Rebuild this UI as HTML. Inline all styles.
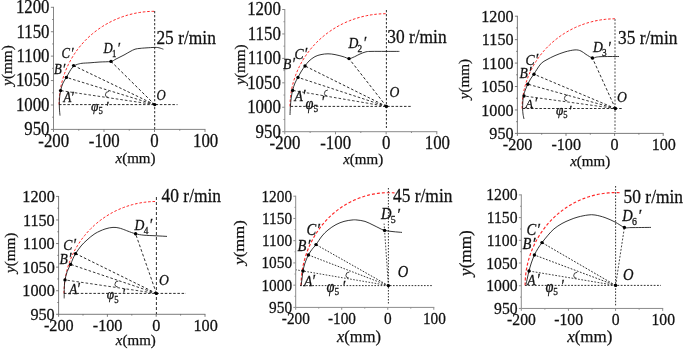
<!DOCTYPE html>
<html><head><meta charset="utf-8"><title>figure</title>
<style>
html,body{margin:0;padding:0;background:#fff;}
body{width:685px;height:350px;overflow:hidden;}
svg{display:block;font-family:"Liberation Serif", serif;}
text{fill:#111;stroke:#111;stroke-width:0.25px;}
</style></head><body>
<svg width="685" height="350" viewBox="0 0 685 350">
<path d="M53.5,6.88 V129.4 H205.43" fill="none" stroke="#707070" stroke-width="0.85"/>
<path d="M50.90,129.40 H53.5 M52.20,117.19 H53.5 M50.90,104.98 H53.5 M52.20,92.77 H53.5 M50.90,80.56 H53.5 M52.20,68.35 H53.5 M50.90,56.14 H53.5 M52.20,43.93 H53.5 M50.90,31.72 H53.5 M52.20,19.51 H53.5 M50.90,7.30 H53.5 M53.50,129.4 V132.00 M78.75,129.4 V130.70 M104.00,129.4 V132.00 M129.25,129.4 V130.70 M154.50,129.4 V132.00 M179.75,129.4 V130.70 M205.00,129.4 V132.00 " fill="none" stroke="#707070" stroke-width="0.85"/>
<text transform="translate(49.50,135.30) scale(1,1.07)" font-size="16.82" text-anchor="end">950</text>
<text transform="translate(49.50,110.88) scale(1,1.07)" font-size="16.82" text-anchor="end">1000</text>
<text transform="translate(49.50,86.46) scale(1,1.07)" font-size="16.82" text-anchor="end">1050</text>
<text transform="translate(49.50,62.04) scale(1,1.07)" font-size="16.82" text-anchor="end">1100</text>
<text transform="translate(49.50,37.62) scale(1,1.07)" font-size="16.82" text-anchor="end">1150</text>
<text transform="translate(49.50,13.20) scale(1,1.07)" font-size="16.82" text-anchor="end">1200</text>
<text transform="translate(53.70,146.80) scale(1,1.07)" font-size="16.82" text-anchor="middle">-200</text>
<text transform="translate(104.20,146.80) scale(1,1.07)" font-size="16.82" text-anchor="middle">-100</text>
<text transform="translate(154.50,146.80) scale(1,1.07)" font-size="16.82" text-anchor="middle">0</text>
<text transform="translate(205.60,146.80) scale(1,1.07)" font-size="16.82" text-anchor="middle">100</text>
<text x="135.50" y="162.80" font-size="15.00" text-anchor="middle"><tspan font-style="italic">x</tspan>(mm)</text>
<text transform="translate(12.40,65.50) rotate(-90) scale(1.01,0.93)" font-size="15.00" text-anchor="middle"><tspan font-style="italic">y</tspan>(mm)</text>
<path d="M59.10,104.60 L59.13,102.16 L59.23,99.72 L59.39,97.28 L59.62,94.85 L59.92,92.42 L60.28,90.00 L60.70,87.60 L61.19,85.20 L61.74,82.82 L62.36,80.45 L63.04,78.10 L63.78,75.77 L64.58,73.46 L65.45,71.16 L66.38,68.90 L67.37,66.65 L68.41,64.43 L69.52,62.24 L70.69,60.08 L71.91,57.95 L73.19,55.85 L74.52,53.79 L75.91,51.75 L77.36,49.76 L78.86,47.80 L80.40,45.88 L82.01,44.01 L83.66,42.17 L85.35,40.38 L87.10,38.63 L88.89,36.92 L90.73,35.26 L92.61,33.65 L94.54,32.09 L96.50,30.58 L98.51,29.12 L100.55,27.71 L102.63,26.35 L104.75,25.05 L106.90,23.80 L109.08,22.61 L111.30,21.47 L113.54,20.39 L115.82,19.37 L118.12,18.40 L120.44,17.50 L122.79,16.65 L125.16,15.87 L127.55,15.14 L129.96,14.48 L132.38,13.88 L134.82,13.34 L137.28,12.86 L139.74,12.45 L142.22,12.10 L144.71,11.81 L147.20,11.59 L149.70,11.43 L152.20,11.33 L154.70,11.30" fill="none" stroke="#ff2626" stroke-width="1.0" stroke-dasharray="2.6 1.8"/>
<path d="M154.7,104.6 L60.6,90.6" fill="none" stroke="#1a1a1a" stroke-width="0.84" stroke-dasharray="2.6 2.0"/>
<path d="M154.7,104.6 L66.4,77.4" fill="none" stroke="#1a1a1a" stroke-width="0.89" stroke-dasharray="2.6 2.0"/>
<path d="M154.7,104.6 L73.6,65.6" fill="none" stroke="#1a1a1a" stroke-width="0.93" stroke-dasharray="2.6 2.0"/>
<path d="M154.7,104.6 L111,61.4" fill="none" stroke="#1a1a1a" stroke-width="0.97" stroke-dasharray="2.8 2.1"/>
<path d="M59,104.6 H177.5" fill="none" stroke="#1a1a1a" stroke-width="0.92" stroke-dasharray="2.5 1.7"/>
<path d="M154.7,11 V129" fill="none" stroke="#1a1a1a" stroke-width="0.92" stroke-dasharray="2.3 1.7"/>
<path d="M60.00,115.60 C59.90,114.33 59.50,110.60 59.40,108.00 C59.30,105.40 59.20,102.90 59.40,100.00 C59.60,97.10 60.00,93.43 60.60,90.60 C61.20,87.77 62.03,85.20 63.00,83.00 C63.97,80.80 65.30,79.30 66.40,77.40 C67.50,75.50 68.67,73.17 69.60,71.60 C70.53,70.03 71.20,68.98 72.00,68.00 C72.80,67.02 73.48,66.32 74.40,65.70 C75.32,65.08 76.23,64.70 77.50,64.30 C78.77,63.90 79.92,63.55 82.00,63.30 C84.08,63.05 87.00,63.02 90.00,62.80 C93.00,62.58 96.50,62.23 100.00,62.00 C103.50,61.77 108.33,61.90 111.00,61.40 C113.67,60.90 113.83,60.07 116.00,59.00 C118.17,57.93 121.67,56.23 124.00,55.00 C126.33,53.77 128.17,52.57 130.00,51.60 C131.83,50.63 133.33,49.73 135.00,49.20 C136.67,48.67 138.17,48.62 140.00,48.40 C141.83,48.18 143.50,48.07 146.00,47.90 C148.50,47.73 152.83,47.42 155.00,47.40 C157.17,47.38 157.60,47.50 159.00,47.80 C160.40,48.10 162.67,48.97 163.40,49.20" fill="none" stroke="#111" stroke-width="0.85"/>
<circle cx="60.6" cy="90.6" r="1.7" fill="#000"/>
<circle cx="66.4" cy="77.4" r="1.7" fill="#000"/>
<circle cx="73.6" cy="65.6" r="1.7" fill="#000"/>
<circle cx="111" cy="61.4" r="1.7" fill="#000"/>
<circle cx="154.7" cy="104.6" r="1.7" fill="#000"/>
<text transform="translate(63.6,102.4) scale(1,1.1)" font-size="12.73" font-style="italic">A<tspan dx="-0.6" font-size="14.00">′</tspan></text>
<text transform="translate(54,74) scale(1,1.1)" font-size="12.73" font-style="italic">B<tspan dx="0.5" font-size="14.00">′</tspan></text>
<text transform="translate(61.6,58) scale(1,1.1)" font-size="12.73" font-style="italic">C<tspan dx="0.5" font-size="14.00">′</tspan></text>
<text transform="translate(103.5,52.9) scale(1,1.1)" font-size="12.73" font-style="italic">D<tspan font-size="8.7" dy="3.4" dx="-0.8" font-style="normal">1</tspan><tspan dy="-3.2" dx="0.8" font-size="14.00">′</tspan></text>
<text transform="translate(156.5,99.6) scale(1,1.1)" font-size="12.73" font-style="italic">O</text>
<text transform="translate(91,111) scale(1,1.1)" font-size="13.36" font-style="italic">φ<tspan font-size="8.7" dy="3.1" font-style="normal">5</tspan></text>
<text transform="translate(105.5,111.6) scale(1,1.1)" font-size="14.00" font-style="italic">′</text>
<path d="M108.9,91.4 Q105.2,91.60000000000001 105.4,94.9 Q105.6,97.4 108.2,97.30000000000001" fill="none" stroke="#222" stroke-width="0.85"/>
<text transform="translate(156.4,43.6) scale(1,1.12)" font-size="17.40">25 r/min</text>
<path d="M284.8,9.00 V131.7 H437.30" fill="none" stroke="#8a8a8a" stroke-width="1.0"/>
<path d="M282.20,131.70 H284.8 M283.50,119.48 H284.8 M282.20,107.26 H284.8 M283.50,95.04 H284.8 M282.20,82.82 H284.8 M283.50,70.60 H284.8 M282.20,58.38 H284.8 M283.50,46.16 H284.8 M282.20,33.94 H284.8 M283.50,21.72 H284.8 M282.20,9.50 H284.8 M284.80,131.7 V134.30 M310.13,131.7 V133.00 M335.47,131.7 V134.30 M360.80,131.7 V133.00 M386.13,131.7 V134.30 M411.47,131.7 V133.00 M436.80,131.7 V134.30 " fill="none" stroke="#8a8a8a" stroke-width="1.0"/>
<text transform="translate(280.80,137.60) scale(1,1.07)" font-size="16.82" text-anchor="end">950</text>
<text transform="translate(280.80,113.16) scale(1,1.07)" font-size="16.82" text-anchor="end">1000</text>
<text transform="translate(280.80,88.72) scale(1,1.07)" font-size="16.82" text-anchor="end">1050</text>
<text transform="translate(280.80,64.28) scale(1,1.07)" font-size="16.82" text-anchor="end">1100</text>
<text transform="translate(280.80,39.84) scale(1,1.07)" font-size="16.82" text-anchor="end">1150</text>
<text transform="translate(280.80,15.40) scale(1,1.07)" font-size="16.82" text-anchor="end">1200</text>
<text transform="translate(285.00,149.10) scale(1,1.07)" font-size="16.82" text-anchor="middle">-200</text>
<text transform="translate(335.67,149.10) scale(1,1.07)" font-size="16.82" text-anchor="middle">-100</text>
<text transform="translate(386.13,149.10) scale(1,1.07)" font-size="16.82" text-anchor="middle">0</text>
<text transform="translate(437.40,149.10) scale(1,1.07)" font-size="16.82" text-anchor="middle">100</text>
<text x="363.20" y="164.10" font-size="15.00" text-anchor="middle"><tspan font-style="italic">x</tspan>(mm)</text>
<text transform="translate(244.70,64.60) rotate(-90) scale(1.01,0.93)" font-size="15.00" text-anchor="middle"><tspan font-style="italic">y</tspan>(mm)</text>
<path d="M290.00,106.40 L290.03,103.97 L290.13,101.55 L290.30,99.13 L290.53,96.71 L290.82,94.30 L291.19,91.90 L291.61,89.51 L292.11,87.13 L292.66,84.76 L293.28,82.41 L293.97,80.07 L294.72,77.75 L295.53,75.46 L296.40,73.18 L297.34,70.93 L298.33,68.70 L299.39,66.49 L300.51,64.32 L301.68,62.17 L302.92,60.05 L304.21,57.96 L305.55,55.91 L306.95,53.89 L308.41,51.91 L309.92,49.97 L311.48,48.06 L313.10,46.20 L314.76,44.37 L316.47,42.59 L318.23,40.85 L320.04,39.16 L321.90,37.51 L323.79,35.91 L325.73,34.36 L327.72,32.86 L329.74,31.40 L331.80,30.00 L333.90,28.66 L336.03,27.36 L338.20,26.12 L340.40,24.93 L342.64,23.80 L344.90,22.73 L347.19,21.71 L349.51,20.76 L351.85,19.86 L354.22,19.02 L356.61,18.24 L359.02,17.52 L361.45,16.86 L363.90,16.26 L366.36,15.73 L368.83,15.25 L371.32,14.84 L373.82,14.49 L376.32,14.21 L378.84,13.99 L381.35,13.83 L383.88,13.73 L386.40,13.70" fill="none" stroke="#ff2626" stroke-width="1.0" stroke-dasharray="2.6 1.8"/>
<path d="M386.4,106.4 L292.6,90.4" fill="none" stroke="#1a1a1a" stroke-width="0.84" stroke-dasharray="2.6 2.0"/>
<path d="M386.4,106.4 L298,77.4" fill="none" stroke="#1a1a1a" stroke-width="0.89" stroke-dasharray="2.6 2.0"/>
<path d="M386.4,106.4 L305,66" fill="none" stroke="#1a1a1a" stroke-width="0.93" stroke-dasharray="2.6 2.0"/>
<path d="M386.4,106.4 L349,58.6" fill="none" stroke="#1a1a1a" stroke-width="0.96" stroke-dasharray="2.8 2.1"/>
<path d="M290.6,106.4 H412" fill="none" stroke="#1a1a1a" stroke-width="0.92" stroke-dasharray="2.5 1.7"/>
<path d="M386.4,10 V128" fill="none" stroke="#1a1a1a" stroke-width="0.92" stroke-dasharray="2.3 1.7"/>
<path d="M290.00,115.00 C290.07,113.57 290.20,109.23 290.40,106.40 C290.60,103.57 290.83,100.67 291.20,98.00 C291.57,95.33 291.97,92.90 292.60,90.40 C293.23,87.90 294.10,85.17 295.00,83.00 C295.90,80.83 296.92,79.40 298.00,77.40 C299.08,75.40 300.33,72.90 301.50,71.00 C302.67,69.10 303.75,67.67 305.00,66.00 C306.25,64.33 307.33,62.57 309.00,61.00 C310.67,59.43 313.00,57.67 315.00,56.60 C317.00,55.53 318.83,55.07 321.00,54.60 C323.17,54.13 325.67,53.80 328.00,53.80 C330.33,53.80 332.50,54.13 335.00,54.60 C337.50,55.07 340.67,55.93 343.00,56.60 C345.33,57.27 347.33,58.47 349.00,58.60 C350.67,58.73 351.83,57.83 353.00,57.40 C354.17,56.97 354.83,56.57 356.00,56.00 C357.17,55.43 358.33,54.70 360.00,54.00 C361.67,53.30 364.00,52.23 366.00,51.80 C368.00,51.37 368.83,51.47 372.00,51.40 C375.17,51.33 380.43,51.40 385.00,51.40 C389.57,51.40 397.00,51.40 399.40,51.40" fill="none" stroke="#111" stroke-width="0.85"/>
<circle cx="292.6" cy="90.4" r="1.7" fill="#000"/>
<circle cx="298" cy="77.4" r="1.7" fill="#000"/>
<circle cx="305" cy="66" r="1.7" fill="#000"/>
<circle cx="349" cy="58.6" r="1.7" fill="#000"/>
<circle cx="386.4" cy="106.4" r="1.7" fill="#000"/>
<text transform="translate(294.5,101.4) scale(1,1.1)" font-size="13.64" font-style="italic">A<tspan dx="-0.6" font-size="15.00">′</tspan></text>
<text transform="translate(283,68.6) scale(1,1.1)" font-size="13.64" font-style="italic">B<tspan dx="0.5" font-size="15.00">′</tspan></text>
<text transform="translate(294.5,58.6) scale(1,1.1)" font-size="13.64" font-style="italic">C<tspan dx="0.5" font-size="15.00">′</tspan></text>
<text transform="translate(348.5,48) scale(1,1.1)" font-size="13.64" font-style="italic">D<tspan font-size="9.3" dy="3.4" dx="-0.8" font-style="normal">2</tspan><tspan dy="-3.2" dx="0.8" font-size="15.00">′</tspan></text>
<text transform="translate(389.5,97.4) scale(1,1.1)" font-size="13.64" font-style="italic">O</text>
<text transform="translate(305.6,109) scale(1,1.1)" font-size="14.32" font-style="italic">φ<tspan font-size="9.3" dy="3.1" font-style="normal">5</tspan></text>
<text transform="translate(321,106.6) scale(1,1.1)" font-size="15.00" font-style="italic">′</text>
<path d="M327.9,90.0 Q324.2,90.2 324.4,93.5 Q324.6,96.0 327.2,95.9" fill="none" stroke="#222" stroke-width="0.85"/>
<text transform="translate(387.2,43) scale(1,1.12)" font-size="17.40">30 r/min</text>
<path d="M517.4,15.80 V133.4 H663.60" fill="none" stroke="#5a5a5a" stroke-width="0.8"/>
<path d="M514.90,133.40 H517.4 M516.15,121.68 H517.4 M514.90,109.96 H517.4 M516.15,98.24 H517.4 M514.90,86.52 H517.4 M516.15,74.80 H517.4 M514.90,63.08 H517.4 M516.15,51.36 H517.4 M514.90,39.64 H517.4 M516.15,27.92 H517.4 M514.90,16.20 H517.4 M517.40,133.4 V135.90 M541.70,133.4 V134.65 M566.00,133.4 V135.90 M590.30,133.4 V134.65 M614.60,133.4 V135.90 M638.90,133.4 V134.65 M663.20,133.4 V135.90 " fill="none" stroke="#5a5a5a" stroke-width="0.8"/>
<text transform="translate(513.56,139.06) scale(1,1.07)" font-size="16.15" text-anchor="end">950</text>
<text transform="translate(513.56,115.62) scale(1,1.07)" font-size="16.15" text-anchor="end">1000</text>
<text transform="translate(513.56,92.18) scale(1,1.07)" font-size="16.15" text-anchor="end">1050</text>
<text transform="translate(513.56,68.74) scale(1,1.07)" font-size="16.15" text-anchor="end">1100</text>
<text transform="translate(513.56,45.30) scale(1,1.07)" font-size="16.15" text-anchor="end">1150</text>
<text transform="translate(513.56,21.86) scale(1,1.07)" font-size="16.15" text-anchor="end">1200</text>
<text transform="translate(517.59,150.10) scale(1,1.07)" font-size="16.15" text-anchor="middle">-200</text>
<text transform="translate(566.19,150.10) scale(1,1.07)" font-size="16.15" text-anchor="middle">-100</text>
<text transform="translate(614.60,150.10) scale(1,1.07)" font-size="16.15" text-anchor="middle">0</text>
<text transform="translate(663.78,150.10) scale(1,1.07)" font-size="16.15" text-anchor="middle">100</text>
<text x="590.20" y="165.80" font-size="15.00" text-anchor="middle"><tspan font-style="italic">x</tspan>(mm)</text>
<text transform="translate(468.90,79.10) rotate(-90) scale(1.01,0.93)" font-size="15.00" text-anchor="middle"><tspan font-style="italic">y</tspan>(mm)</text>
<path d="M522.10,108.50 L522.13,106.15 L522.23,103.81 L522.39,101.46 L522.61,99.12 L522.90,96.79 L523.25,94.47 L523.66,92.15 L524.14,89.85 L524.68,87.56 L525.28,85.28 L525.94,83.02 L526.67,80.78 L527.45,78.56 L528.30,76.35 L529.20,74.17 L530.17,72.02 L531.19,69.88 L532.27,67.78 L533.41,65.70 L534.60,63.65 L535.85,61.63 L537.15,59.65 L538.51,57.69 L539.92,55.78 L541.38,53.89 L542.89,52.05 L544.45,50.24 L546.06,48.48 L547.72,46.75 L549.43,45.07 L551.18,43.43 L552.97,41.84 L554.81,40.29 L556.68,38.79 L558.60,37.34 L560.56,35.93 L562.55,34.58 L564.59,33.27 L566.65,32.02 L568.75,30.82 L570.88,29.67 L573.04,28.58 L575.23,27.54 L577.45,26.55 L579.70,25.63 L581.96,24.76 L584.26,23.95 L586.57,23.19 L588.90,22.49 L591.25,21.86 L593.62,21.28 L596.00,20.76 L598.40,20.30 L600.80,19.90 L603.22,19.57 L605.65,19.29 L608.08,19.08 L610.52,18.92 L612.96,18.83 L615.40,18.80" fill="none" stroke="#ff2626" stroke-width="1.0" stroke-dasharray="2.6 1.8"/>
<path d="M615.4,108.5 L524,96" fill="none" stroke="#1a1a1a" stroke-width="0.83" stroke-dasharray="2.6 2.0"/>
<path d="M615.4,108.5 L527.8,84.2" fill="none" stroke="#1a1a1a" stroke-width="0.88" stroke-dasharray="2.6 2.0"/>
<path d="M615.4,108.5 L534,74.2" fill="none" stroke="#1a1a1a" stroke-width="0.91" stroke-dasharray="2.6 2.0"/>
<path d="M615.4,108.5 L592.4,58" fill="none" stroke="#1a1a1a" stroke-width="0.92" stroke-dasharray="2.8 2.1"/>
<path d="M522.6,108.5 H623" fill="none" stroke="#1a1a1a" stroke-width="0.92" stroke-dasharray="2.5 1.7"/>
<path d="M615.0,19 V132" fill="none" stroke="#9a9a9a" stroke-width="1.7" stroke-dasharray="2.1 1.4"/>
<path d="M524.00,119.00 C523.83,118.17 523.23,115.77 523.00,114.00 C522.77,112.23 522.63,110.40 522.60,108.40 C522.57,106.40 522.63,104.13 522.80,102.00 C522.97,99.87 523.18,97.60 523.60,95.60 C524.02,93.60 524.63,91.87 525.30,90.00 C525.97,88.13 526.73,86.23 527.60,84.40 C528.47,82.57 529.43,80.73 530.50,79.00 C531.57,77.27 532.92,75.63 534.00,74.00 C535.08,72.37 535.77,71.00 537.00,69.20 C538.23,67.40 539.73,64.80 541.40,63.20 C543.07,61.60 544.73,60.87 547.00,59.60 C549.27,58.33 552.00,56.88 555.00,55.60 C558.00,54.32 561.67,52.85 565.00,51.90 C568.33,50.95 572.33,50.05 575.00,49.90 C577.67,49.75 579.17,50.25 581.00,51.00 C582.83,51.75 584.10,53.23 586.00,54.40 C587.90,55.57 590.73,57.53 592.40,58.00 C594.07,58.47 594.73,57.42 596.00,57.20 C597.27,56.98 597.67,56.82 600.00,56.70 C602.33,56.58 606.83,56.53 610.00,56.50 C613.17,56.47 617.50,56.50 619.00,56.50" fill="none" stroke="#111" stroke-width="0.85"/>
<circle cx="524" cy="96" r="1.7" fill="#000"/>
<circle cx="527.8" cy="84.2" r="1.7" fill="#000"/>
<circle cx="534" cy="74.2" r="1.7" fill="#000"/>
<circle cx="592.4" cy="58" r="1.7" fill="#000"/>
<circle cx="615.4" cy="108.5" r="1.7" fill="#000"/>
<text transform="translate(525.5,108) scale(1,1.1)" font-size="12.27" font-style="italic">A<tspan dx="1.2" font-size="13.50">′</tspan></text>
<text transform="translate(519.5,78.2) scale(1,1.1)" font-size="13.64" font-style="italic">B<tspan dx="0.5" font-size="15.00">′</tspan></text>
<text transform="translate(525.5,65.2) scale(1,1.1)" font-size="13.64" font-style="italic">C<tspan dx="0.5" font-size="15.00">′</tspan></text>
<text transform="translate(593,52.4) scale(1,1.1)" font-size="13.64" font-style="italic">D<tspan font-size="9.3" dy="3.4" dx="-0.8" font-style="normal">3</tspan><tspan dy="-3.2" dx="0.8" font-size="15.00">′</tspan></text>
<text transform="translate(617,102.4) scale(1,1.1)" font-size="13.64" font-style="italic">O</text>
<text transform="translate(556,114.5) scale(1,1.1)" font-size="13.17" font-style="italic">φ<tspan font-size="8.5" dy="3.1" font-style="normal">5</tspan></text>
<text transform="translate(568.6,115.6) scale(1,1.1)" font-size="13.80" font-style="italic">′</text>
<path d="M567.9,95.0 Q564.2,95.2 564.4,98.5 Q564.6,101.0 567.2,100.9" fill="none" stroke="#222" stroke-width="0.85"/>
<text transform="translate(618,43.6) scale(1,1.12)" font-size="17.40">35 r/min</text>
<path d="M58.6,196.00 V314.3 H205.40" fill="none" stroke="#5a5a5a" stroke-width="0.8"/>
<path d="M56.09,314.30 H58.6 M57.35,302.51 H58.6 M56.09,290.72 H58.6 M57.35,278.93 H58.6 M56.09,267.14 H58.6 M57.35,255.35 H58.6 M56.09,243.56 H58.6 M57.35,231.77 H58.6 M56.09,219.98 H58.6 M57.35,208.19 H58.6 M56.09,196.40 H58.6 M58.60,314.3 V316.81 M83.00,314.3 V315.55 M107.40,314.3 V316.81 M131.80,314.3 V315.55 M156.20,314.3 V316.81 M180.60,314.3 V315.55 M205.00,314.3 V316.81 " fill="none" stroke="#5a5a5a" stroke-width="0.8"/>
<text transform="translate(54.74,319.99) scale(1,1.07)" font-size="16.23" text-anchor="end">950</text>
<text transform="translate(54.74,296.41) scale(1,1.07)" font-size="16.23" text-anchor="end">1000</text>
<text transform="translate(54.74,272.83) scale(1,1.07)" font-size="16.23" text-anchor="end">1050</text>
<text transform="translate(54.74,249.25) scale(1,1.07)" font-size="16.23" text-anchor="end">1100</text>
<text transform="translate(54.74,225.67) scale(1,1.07)" font-size="16.23" text-anchor="end">1150</text>
<text transform="translate(54.74,202.09) scale(1,1.07)" font-size="16.23" text-anchor="end">1200</text>
<text transform="translate(58.79,331.09) scale(1,1.07)" font-size="16.23" text-anchor="middle">-200</text>
<text transform="translate(107.59,331.09) scale(1,1.07)" font-size="16.23" text-anchor="middle">-100</text>
<text transform="translate(156.20,331.09) scale(1,1.07)" font-size="16.23" text-anchor="middle">0</text>
<text transform="translate(205.58,331.09) scale(1,1.07)" font-size="16.23" text-anchor="middle">100</text>
<text x="135.80" y="344.60" font-size="15.00" text-anchor="middle"><tspan font-style="italic">x</tspan>(mm)</text>
<text transform="translate(14.80,252.80) rotate(-90) scale(1.01,0.93)" font-size="15.00" text-anchor="middle"><tspan font-style="italic">y</tspan>(mm)</text>
<path d="M64.00,293.40 L64.03,290.99 L64.13,288.59 L64.28,286.19 L64.51,283.79 L64.79,281.40 L65.14,279.02 L65.55,276.65 L66.02,274.29 L66.55,271.95 L67.15,269.61 L67.81,267.30 L68.52,265.00 L69.30,262.72 L70.14,260.47 L71.03,258.23 L71.99,256.02 L73.00,253.84 L74.07,251.68 L75.20,249.55 L76.38,247.45 L77.62,245.38 L78.91,243.35 L80.25,241.35 L81.65,239.38 L83.09,237.45 L84.59,235.57 L86.14,233.72 L87.73,231.91 L89.38,230.14 L91.06,228.42 L92.80,226.74 L94.57,225.10 L96.39,223.52 L98.25,221.98 L100.15,220.49 L102.09,219.05 L104.06,217.66 L106.08,216.33 L108.12,215.04 L110.20,213.81 L112.31,212.64 L114.45,211.52 L116.62,210.45 L118.82,209.45 L121.04,208.50 L123.29,207.60 L125.56,206.77 L127.85,206.00 L130.16,205.28 L132.49,204.63 L134.83,204.04 L137.19,203.51 L139.56,203.04 L141.95,202.63 L144.34,202.29 L146.74,202.00 L149.15,201.78 L151.56,201.63 L153.98,201.53 L156.40,201.50" fill="none" stroke="#ff2626" stroke-width="1.0" stroke-dasharray="2.6 1.8"/>
<path d="M156.4,293.4 L65,279.9" fill="none" stroke="#1a1a1a" stroke-width="0.84" stroke-dasharray="2.6 2.0"/>
<path d="M156.4,293.4 L70.6,264.4" fill="none" stroke="#1a1a1a" stroke-width="0.89" stroke-dasharray="2.6 2.0"/>
<path d="M156.4,293.4 L75.6,253.6" fill="none" stroke="#1a1a1a" stroke-width="0.93" stroke-dasharray="2.6 2.0"/>
<path d="M156.4,293.4 L135.6,233.8" fill="none" stroke="#1a1a1a" stroke-width="0.90" stroke-dasharray="2.8 2.1"/>
<path d="M64,293.4 H186" fill="none" stroke="#1a1a1a" stroke-width="0.92" stroke-dasharray="2.5 1.7"/>
<path d="M156.4,197 V314" fill="none" stroke="#1a1a1a" stroke-width="0.92" stroke-dasharray="3 2"/>
<path d="M64.20,298.40 C64.20,297.50 64.17,295.07 64.20,293.00 C64.23,290.93 64.27,288.18 64.40,286.00 C64.53,283.82 64.53,282.32 65.00,279.90 C65.47,277.48 66.27,274.08 67.20,271.50 C68.13,268.92 69.63,266.57 70.60,264.40 C71.57,262.23 72.17,260.30 73.00,258.50 C73.83,256.70 74.27,255.68 75.60,253.60 C76.93,251.52 79.10,248.27 81.00,246.00 C82.90,243.73 84.67,242.07 87.00,240.00 C89.33,237.93 92.00,235.43 95.00,233.60 C98.00,231.77 102.00,230.03 105.00,229.00 C108.00,227.97 110.67,227.57 113.00,227.40 C115.33,227.23 117.00,227.57 119.00,228.00 C121.00,228.43 123.50,229.47 125.00,230.00 C126.50,230.53 126.23,230.57 128.00,231.20 C129.77,231.83 132.93,233.13 135.60,233.80 C138.27,234.47 140.60,234.87 144.00,235.20 C147.40,235.53 152.17,235.60 156.00,235.80 C159.83,236.00 165.17,236.30 167.00,236.40" fill="none" stroke="#111" stroke-width="0.85"/>
<circle cx="65" cy="279.9" r="1.7" fill="#000"/>
<circle cx="70.6" cy="264.4" r="1.7" fill="#000"/>
<circle cx="75.6" cy="253.6" r="1.7" fill="#000"/>
<circle cx="135.6" cy="233.8" r="1.7" fill="#000"/>
<circle cx="156.4" cy="293.4" r="1.7" fill="#000"/>
<text transform="translate(69.3,293.5) scale(1,1.1)" font-size="13.18" font-style="italic">A<tspan dx="-0.6" font-size="14.50">′</tspan></text>
<text transform="translate(59.5,264.3) scale(1,1.1)" font-size="13.64" font-style="italic">B<tspan dx="0.5" font-size="15.00">′</tspan></text>
<text transform="translate(63.2,250.3) scale(1,1.1)" font-size="13.64" font-style="italic">C<tspan dx="0.5" font-size="15.00">′</tspan></text>
<text transform="translate(134.6,230) scale(1,1.1)" font-size="13.64" font-style="italic">D<tspan font-size="9.3" dy="3.4" dx="-0.8" font-style="normal">4</tspan><tspan dy="-3.2" dx="0.8" font-size="15.00">′</tspan></text>
<text transform="translate(159,285.2) scale(1,1.1)" font-size="13.64" font-style="italic">O</text>
<text transform="translate(106.8,299.3) scale(1,1.1)" font-size="13.36" font-style="italic">φ<tspan font-size="8.7" dy="3.1" font-style="normal">5</tspan></text>
<text transform="translate(122,298.6) scale(1,1.1)" font-size="14.00" font-style="italic">′</text>
<path d="M118.4,281.0 Q114.7,281.2 114.9,284.5 Q115.1,287.0 117.7,286.9" fill="none" stroke="#222" stroke-width="0.85"/>
<text transform="translate(161.6,201.6) scale(1,1.12)" font-size="17.40">40 r/min</text>
<path d="M295.7,195.70 V307.4 H434.30" fill="none" stroke="#8c8c8c" stroke-width="1.0"/>
<path d="M293.33,307.40 H295.7 M294.52,296.28 H295.7 M293.33,285.16 H295.7 M294.52,274.04 H295.7 M293.33,262.92 H295.7 M294.52,251.80 H295.7 M293.33,240.68 H295.7 M294.52,229.56 H295.7 M293.33,218.44 H295.7 M294.52,207.32 H295.7 M293.33,196.20 H295.7 M295.70,307.4 V309.77 M318.72,307.4 V308.58 M341.73,307.4 V309.77 M364.75,307.4 V308.58 M387.77,307.4 V309.77 M410.78,307.4 V308.58 M433.80,307.4 V309.77 " fill="none" stroke="#8c8c8c" stroke-width="1.0"/>
<text transform="translate(292.06,312.77) scale(1,1.07)" font-size="15.31" text-anchor="end">950</text>
<text transform="translate(292.06,290.53) scale(1,1.07)" font-size="15.31" text-anchor="end">1000</text>
<text transform="translate(292.06,268.29) scale(1,1.07)" font-size="15.31" text-anchor="end">1050</text>
<text transform="translate(292.06,246.05) scale(1,1.07)" font-size="15.31" text-anchor="end">1100</text>
<text transform="translate(292.06,223.81) scale(1,1.07)" font-size="15.31" text-anchor="end">1150</text>
<text transform="translate(292.06,201.57) scale(1,1.07)" font-size="15.31" text-anchor="end">1200</text>
<text transform="translate(295.88,323.53) scale(1,1.07)" font-size="15.31" text-anchor="middle">-200</text>
<text transform="translate(341.92,323.53) scale(1,1.07)" font-size="15.31" text-anchor="middle">-100</text>
<text transform="translate(387.77,323.53) scale(1,1.07)" font-size="15.31" text-anchor="middle">0</text>
<text transform="translate(434.35,323.53) scale(1,1.07)" font-size="15.31" text-anchor="middle">100</text>
<text x="359.00" y="341.80" font-size="16.50" text-anchor="middle"><tspan font-style="italic">x</tspan>(mm)</text>
<text transform="translate(243.80,242.50) rotate(-90) scale(1.01,0.93)" font-size="16.50" text-anchor="middle"><tspan font-style="italic">y</tspan>(mm)</text>
<path d="M301.10,285.60 L301.13,283.06 L301.23,280.52 L301.39,277.99 L301.62,275.46 L301.91,272.94 L302.27,270.43 L302.69,267.93 L303.18,265.44 L303.73,262.97 L304.34,260.51 L305.02,258.08 L305.76,255.66 L306.56,253.27 L307.42,250.90 L308.34,248.56 L309.32,246.24 L310.36,243.95 L311.46,241.70 L312.62,239.48 L313.83,237.29 L315.10,235.14 L316.43,233.03 L317.80,230.95 L319.23,228.92 L320.72,226.93 L322.25,224.98 L323.83,223.08 L325.46,221.22 L327.14,219.41 L328.86,217.66 L330.63,215.95 L332.44,214.30 L334.29,212.69 L336.19,211.15 L338.12,209.66 L340.09,208.22 L342.09,206.84 L344.14,205.53 L346.21,204.27 L348.31,203.07 L350.45,201.94 L352.61,200.86 L354.80,199.85 L357.02,198.91 L359.26,198.03 L361.52,197.21 L363.80,196.46 L366.10,195.78 L368.42,195.17 L370.75,194.62 L373.09,194.14 L375.45,193.73 L377.81,193.39 L380.18,193.11 L382.56,192.91 L384.95,192.77 L387.33,192.71 L389.72,192.71 L392.11,192.78 L394.49,192.93" fill="none" stroke="#ff2626" stroke-width="1.15" stroke-dasharray="3 2"/>
<path d="M388.4,285.6 L296,269.8" fill="none" stroke="#1a1a1a" stroke-width="0.82" stroke-dasharray="1.6 1.5"/>
<path d="M388.4,285.6 L308.4,255" fill="none" stroke="#1a1a1a" stroke-width="0.89" stroke-dasharray="1.6 1.5"/>
<path d="M388.4,285.6 L316,244.6" fill="none" stroke="#1a1a1a" stroke-width="0.92" stroke-dasharray="1.6 1.5"/>
<path d="M388.4,285.6 L384.1,223.6" fill="none" stroke="#1a1a1a" stroke-width="0.79" stroke-dasharray="1.7 1.5"/>
<path d="M300,285.6 H433" fill="none" stroke="#1a1a1a" stroke-width="0.9" stroke-dasharray="1.6 1.5"/>
<path d="M388.4,188 V304" fill="none" stroke="#1a1a1a" stroke-width="0.9" stroke-dasharray="1.5 1.5"/>
<path d="M301.00,286.00 C301.17,284.83 301.67,281.50 302.00,279.00 C302.33,276.50 302.50,273.67 303.00,271.00 C303.50,268.33 304.10,265.67 305.00,263.00 C305.90,260.33 307.23,257.27 308.40,255.00 C309.57,252.73 310.73,251.13 312.00,249.40 C313.27,247.67 314.33,246.83 316.00,244.60 C317.67,242.37 320.00,238.43 322.00,236.00 C324.00,233.57 325.67,231.90 328.00,230.00 C330.33,228.10 333.33,226.03 336.00,224.60 C338.67,223.17 341.33,222.17 344.00,221.40 C346.67,220.63 349.83,220.23 352.00,220.00 C354.17,219.77 354.83,219.77 357.00,220.00 C359.17,220.23 362.33,220.57 365.00,221.40 C367.67,222.23 370.67,223.90 373.00,225.00 C375.33,226.10 377.07,227.10 379.00,228.00 C380.93,228.90 382.27,229.80 384.60,230.40 C386.93,231.00 390.10,231.27 393.00,231.60 C395.90,231.93 400.50,232.27 402.00,232.40" fill="none" stroke="#111" stroke-width="0.85"/>
<circle cx="303" cy="271" r="1.7" fill="#000"/>
<circle cx="308.4" cy="255" r="1.7" fill="#000"/>
<circle cx="316" cy="244.6" r="1.7" fill="#000"/>
<circle cx="384.6" cy="230.4" r="1.7" fill="#000"/>
<circle cx="388.4" cy="285.6" r="1.7" fill="#000"/>
<text transform="translate(304,285.5) scale(1,1.1)" font-size="13.64" font-style="italic">A<tspan dx="-0.6" font-size="15.00">′</tspan></text>
<text transform="translate(297.5,251.3) scale(1,1.1)" font-size="14.55" font-style="italic">B<tspan dx="0.5" font-size="16.00">′</tspan></text>
<text transform="translate(306.4,234.6) scale(1,1.1)" font-size="14.55" font-style="italic">C<tspan dx="0.5" font-size="16.00">′</tspan></text>
<text transform="translate(381,219.4) scale(1,1.1)" font-size="14.55" font-style="italic">D<tspan font-size="9.9" dy="3.4" dx="-0.8" font-style="normal">5</tspan><tspan dy="-3.2" dx="0.8" font-size="16.00">′</tspan></text>
<text transform="translate(397.7,276.6) scale(1,1.1)" font-size="14.55" font-style="italic">O</text>
<text transform="translate(326.6,291.6) scale(1,1.1)" font-size="14.32" font-style="italic">φ<tspan font-size="9.3" dy="3.1" font-style="normal">5</tspan></text>
<text transform="translate(342,291.6) scale(1,1.1)" font-size="15.00" font-style="italic">′</text>
<path d="M349.4,272.0 Q345.7,272.2 345.9,275.5 Q346.1,278.0 348.7,277.9" fill="none" stroke="#222" stroke-width="0.85"/>
<text transform="translate(393,202.2) scale(1,1.12)" font-size="17.40">45 r/min</text>
<path d="M521.3,194.40 V308.45 H663.20" fill="none" stroke="#8c8c8c" stroke-width="1.0"/>
<path d="M518.87,308.45 H521.3 M520.09,297.09 H521.3 M518.87,285.74 H521.3 M520.09,274.38 H521.3 M518.87,263.03 H521.3 M520.09,251.68 H521.3 M518.87,240.32 H521.3 M520.09,228.97 H521.3 M518.87,217.61 H521.3 M520.09,206.25 H521.3 M518.87,194.90 H521.3 M521.30,308.45 V310.88 M544.87,308.45 V309.66 M568.43,308.45 V310.88 M592.00,308.45 V309.66 M615.57,308.45 V310.88 M639.13,308.45 V309.66 M662.70,308.45 V310.88 " fill="none" stroke="#8c8c8c" stroke-width="1.0"/>
<text transform="translate(517.57,313.95) scale(1,1.07)" font-size="15.70" text-anchor="end">950</text>
<text transform="translate(517.57,291.24) scale(1,1.07)" font-size="15.70" text-anchor="end">1000</text>
<text transform="translate(517.57,268.53) scale(1,1.07)" font-size="15.70" text-anchor="end">1050</text>
<text transform="translate(517.57,245.82) scale(1,1.07)" font-size="15.70" text-anchor="end">1100</text>
<text transform="translate(517.57,223.11) scale(1,1.07)" font-size="15.70" text-anchor="end">1150</text>
<text transform="translate(517.57,200.40) scale(1,1.07)" font-size="15.70" text-anchor="end">1200</text>
<text transform="translate(521.49,324.68) scale(1,1.07)" font-size="15.70" text-anchor="middle">-200</text>
<text transform="translate(568.62,324.68) scale(1,1.07)" font-size="15.70" text-anchor="middle">-100</text>
<text transform="translate(615.57,324.68) scale(1,1.07)" font-size="15.70" text-anchor="middle">0</text>
<text transform="translate(663.26,324.68) scale(1,1.07)" font-size="15.70" text-anchor="middle">100</text>
<text x="589.80" y="342.10" font-size="17.00" text-anchor="middle"><tspan font-style="italic">x</tspan>(mm)</text>
<text transform="translate(470.50,253.10) rotate(-90) scale(1.01,0.93)" font-size="17.00" text-anchor="middle"><tspan font-style="italic">y</tspan>(mm)</text>
<path d="M525.10,285.40 L525.13,282.89 L525.23,280.38 L525.40,277.88 L525.63,275.38 L525.93,272.89 L526.29,270.40 L526.72,267.93 L527.21,265.47 L527.77,263.03 L528.39,260.60 L529.08,258.19 L529.83,255.80 L530.64,253.43 L531.51,251.09 L532.45,248.77 L533.45,246.47 L534.50,244.21 L535.62,241.98 L536.79,239.77 L538.03,237.60 L539.32,235.47 L540.66,233.37 L542.06,231.31 L543.51,229.29 L545.02,227.31 L546.58,225.38 L548.19,223.49 L549.84,221.64 L551.55,219.84 L553.30,218.09 L555.10,216.38 L556.95,214.73 L558.83,213.13 L560.76,211.58 L562.73,210.09 L564.73,208.65 L566.77,207.26 L568.85,205.94 L570.97,204.67 L573.11,203.46 L575.29,202.31 L577.50,201.23 L579.73,200.20 L581.99,199.24 L584.28,198.34 L586.58,197.50 L588.91,196.73 L591.26,196.02 L593.63,195.38 L596.01,194.80 L598.41,194.29 L600.82,193.85 L603.24,193.47 L605.67,193.16 L608.11,192.92 L610.55,192.74 L612.99,192.64 L615.44,192.60 L617.89,192.63 L620.34,192.73" fill="none" stroke="#ff2626" stroke-width="1.15" stroke-dasharray="3 2"/>
<path d="M615.6,285.4 L529,271" fill="none" stroke="#1a1a1a" stroke-width="0.82" stroke-dasharray="1.8 1.5"/>
<path d="M615.6,285.4 L534.4,255" fill="none" stroke="#1a1a1a" stroke-width="0.88" stroke-dasharray="1.8 1.5"/>
<path d="M615.6,285.4 L542,242.6" fill="none" stroke="#1a1a1a" stroke-width="0.92" stroke-dasharray="1.8 1.5"/>
<path d="M615.6,285.4 L624.4,227.4" fill="none" stroke="#1a1a1a" stroke-width="0.82" stroke-dasharray="1.9 1.6"/>
<path d="M525,285.4 H661" fill="none" stroke="#1a1a1a" stroke-width="0.9" stroke-dasharray="1.8 1.5"/>
<path d="M615.6,186 V306" fill="none" stroke="#1a1a1a" stroke-width="0.9" stroke-dasharray="1.6 1.5"/>
<path d="M526.00,284.00 C526.23,283.00 526.90,280.17 527.40,278.00 C527.90,275.83 528.35,273.50 529.00,271.00 C529.65,268.50 530.40,265.67 531.30,263.00 C532.20,260.33 533.28,257.43 534.40,255.00 C535.52,252.57 536.73,250.47 538.00,248.40 C539.27,246.33 540.33,244.80 542.00,242.60 C543.67,240.40 546.00,237.48 548.00,235.20 C550.00,232.92 551.67,230.85 554.00,228.90 C556.33,226.95 559.33,225.02 562.00,223.50 C564.67,221.98 567.33,220.88 570.00,219.80 C572.67,218.72 575.00,217.80 578.00,217.00 C581.00,216.20 585.17,215.33 588.00,215.00 C590.83,214.67 592.17,214.57 595.00,215.00 C597.83,215.43 601.67,216.43 605.00,217.60 C608.33,218.77 611.77,220.37 615.00,222.00 C618.23,223.63 621.73,226.47 624.40,227.40 C627.07,228.33 626.57,227.60 631.00,227.60 C635.43,227.60 647.67,227.43 651.00,227.40" fill="none" stroke="#111" stroke-width="0.85"/>
<circle cx="529" cy="271" r="1.7" fill="#000"/>
<circle cx="534.4" cy="255" r="1.7" fill="#000"/>
<circle cx="542" cy="242.6" r="1.7" fill="#000"/>
<circle cx="624.4" cy="227.4" r="1.7" fill="#000"/>
<circle cx="615.6" cy="285.4" r="1.7" fill="#000"/>
<text transform="translate(527.2,285.3) scale(1,1.1)" font-size="13.64" font-style="italic">A<tspan dx="1.0" font-size="15.00">′</tspan></text>
<text transform="translate(522.6,248.6) scale(1,1.1)" font-size="14.55" font-style="italic">B<tspan dx="0.5" font-size="16.00">′</tspan></text>
<text transform="translate(526.4,234.6) scale(1,1.1)" font-size="14.55" font-style="italic">C<tspan dx="0.5" font-size="16.00">′</tspan></text>
<text transform="translate(622.3,221) scale(1,1.1)" font-size="14.55" font-style="italic">D<tspan font-size="9.9" dy="3.4" dx="-0.8" font-style="normal">6</tspan><tspan dy="-3.2" dx="0.8" font-size="16.00">′</tspan></text>
<text transform="translate(622.9,279.8) scale(1,1.1)" font-size="14.55" font-style="italic">O</text>
<text transform="translate(545.4,291.5) scale(1,1.1)" font-size="14.32" font-style="italic">φ<tspan font-size="9.3" dy="3.1" font-style="normal">5</tspan></text>
<text transform="translate(560.6,291.1) scale(1,1.1)" font-size="15.00" font-style="italic">′</text>
<path d="M577.1999999999999,272.3 Q573.5,272.5 573.6999999999999,275.8 Q573.9,278.3 576.5,278.2" fill="none" stroke="#222" stroke-width="0.85"/>
<text transform="translate(623.6,202.6) scale(1,1.12)" font-size="17.40">50 r/min</text>
</svg>
</body></html>
